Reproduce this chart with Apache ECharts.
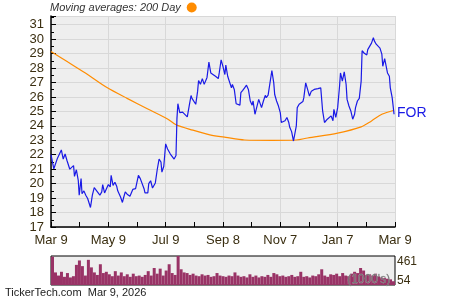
<!DOCTYPE html>
<html><head><meta charset="utf-8">
<script src="https://cdn.jsdelivr.net/npm/echarts@6/dist/echarts.min.js"></script>
<style>html,body{margin:0;padding:0;background:#fff}#c{width:450px;height:300px}</style>
</head><body><div id="c"></div>
<script>
// x tick labels (day offsets from Mar 9, every 61 days)
var xTickLabels = ['Mar 9','May 9','Jul 9','Sep 8','Nov 7','Jan 7','Mar 9'];
// price: day offsets and closing values
var priceDays = [0,3,5,7,9,11,13,15,17,18,20,22,24,25,27,29,30,32,33,35,37,39,41,42,44,46,48,50,52,54,55,57,59,61,63,64,66,68,70,71,74,76,77,79,81,84,85,87,88,90,92,93,95,97,99,100,103,104,106,108,110,111,113,115,117,118,120,122,124,127,129,131,133,134,135,137,139,140,142,145,147,149,150,152,154,156,157,159,161,163,164,166,168,170,172,175,178,179,181,183,185,186,188,190,192,193,195,197,199,201,202,204,206,208,210,212,214,215,217,219,221,222,224,226,228,229,231,233,235,237,238,240,242,244,245,247,249,251,253,254,256,258,261,262,264,266,268,269,271,273,275,277,278,280,282,284,285,287,289,291,293,294,296,298,300,301,303,305,307,308,310,312,314,315,317,319,321,323,324,326,328,330,331,333,335,336,337,339,341,343,344,346,348,350,352,353,355,356,358,360,361,363,365];
var priceVals = [22.0,21.03,20.96,21.78,21.78,22.33,21.7,22.05,21.6,21.7,21.0,21.1,21.25,20.5,20.96,20.23,19.2,20.35,19.3,19.5,19.2,18.97,18.85,18.35,19.2,19.72,19.55,19.43,19.2,19.43,19.93,19.36,19.47,19.94,19.77,20.57,19.88,20.1,19.8,19.5,19.08,18.7,18.97,19.43,19.27,19.13,19.02,19.6,19.47,19.65,19.55,20.57,20.35,20.23,19.65,19.36,19.36,20.0,20.2,19.7,19.8,20.05,20.96,21.7,21.5,20.8,21.2,22.75,22.4,22.05,21.95,21.7,21.95,24.5,25.53,24.91,25.0,24.95,24.97,24.62,25.37,26.1,25.9,26.0,25.49,26.4,27.14,26.87,27.27,26.87,26.95,27.35,28.41,27.66,27.55,27.43,27.27,27.66,28.57,28.1,27.55,28.2,27.43,27.3,26.63,26.86,26.52,25.53,25.6,25.43,26.29,26.45,26.63,26.81,26.52,25.72,25.43,25.72,24.8,24.9,25.83,25.72,25.26,25.72,26.11,25.95,26.13,26.07,27.82,26.97,26.17,25.72,25.37,24.9,24.23,24.12,24.35,24.58,24.23,23.9,23.6,22.95,24.0,25.26,25.49,25.37,25.68,25.95,26.97,26.52,26.06,26.4,26.45,26.52,26.4,26.58,26.68,26.63,25.03,24.23,24.35,24.46,24.58,24.69,24.35,25.14,24.58,25.26,26.74,27.66,27.09,27.73,26.86,25.83,25.37,25.03,24.46,24.8,25.26,25.72,25.9,27.09,29.2,29.04,28.96,28.9,29.27,29.38,29.72,30.1,29.88,29.65,29.72,29.38,28.96,28.12,28.65,28.58,27.66,27.43,26.63,25.95,24.8];
// 200-day moving average
var maDays = [0,18,39,60,81,103,124,133,151,169,186,206,235,261,273,305,330,341,352,365];
var maVals = [29.15,28.41,27.55,26.63,25.9,25.17,24.48,24.07,23.7,23.38,23.2,23.02,23.0,23.02,23.16,23.5,23.93,24.34,24.8,25.08];
// volume (1000's), one bar per ~3 days
var volVals = [450,200,150,210,130,190,120,140,320,390,300,150,400,280,200,160,330,190,210,170,140,220,150,200,140,170,130,180,140,150,130,160,220,150,270,180,260,150,230,330,190,160,461,250,200,190,160,180,150,140,170,150,160,130,140,190,150,140,130,150,140,200,150,130,140,120,170,130,150,120,140,130,160,130,190,170,140,150,130,140,160,130,140,210,130,140,120,150,140,170,250,150,130,170,160,180,140,190,150,140,180,210,190,270,230,160,170,150,180,140,120,110,100,90,60];
var volLabels = ['461','54'];

var chart = echarts.init(document.getElementById('c'), null, {renderer:'canvas'});
var priceData = priceDays.map(function(d,i){return [d, priceVals[i]];});
var maData = maDays.map(function(d,i){return [d, maVals[i]];});
var volCats = volVals.map(function(v,i){return i;});
var labelColor = '#3a2e10';
chart.setOption({
  animation:false,
  grid:[
    {left:51, top:16, width:344, height:211, show:true, backgroundColor:'#eeeeee', borderWidth:0},
    {left:51, top:256, width:344, height:29, show:true, backgroundColor:'#eeeeee', borderColor:'#000', borderWidth:1}
  ],
  xAxis:[
    {type:'value', gridIndex:0, min:0, max:366, interval:61,
     axisLine:{lineStyle:{color:'#000', width:1.5}},
     axisTick:{inside:true, length:5, lineStyle:{color:'#000'}},
     minorTick:{show:true, splitNumber:2, length:5, lineStyle:{color:'#000'}},
     splitLine:{show:true, lineStyle:{color:'#d8d8d8', width:1}},
     axisLabel:{color:labelColor, fontSize:13, fontFamily:'Liberation Sans', margin:7,
       formatter:function(v){var k=Math.round(v/61);return xTickLabels[k]||'';}}},
    {type:'category', gridIndex:1, data:volCats, show:false, boundaryGap:true}
  ],
  yAxis:[
    {type:'value', gridIndex:0, min:17, max:31.6, interval:1,
     axisLine:{show:true, lineStyle:{color:'#000', width:1.5}},
     axisTick:{inside:true, length:5, lineStyle:{color:'#000'}},
     minorTick:{show:true, splitNumber:2, length:3, lineStyle:{color:'#000'}},
     splitLine:{show:true, lineStyle:{color:'#d8d8d8', width:1}},
     axisLabel:{color:labelColor, fontSize:13, fontFamily:'Liberation Sans', margin:7,
       formatter:function(v){return Math.abs(v-Math.round(v))<1e-6 ? String(Math.round(v)) : '';}}},
    {type:'value', gridIndex:1, min:0, max:461, show:false, splitLine:{show:false}}
  ],
  series:[
    {type:'line', xAxisIndex:0, yAxisIndex:0, data:maData, showSymbol:false, smooth:0.3,
     lineStyle:{color:'#ff8c00', width:1.2}, z:2},
    {type:'line', xAxisIndex:0, yAxisIndex:0, data:priceData, showSymbol:false,
     lineStyle:{color:'#1a1ae6', width:1.2}, z:3},
    {type:'bar', xAxisIndex:1, yAxisIndex:1, data:volVals, barCategoryGap:'0%', barWidth:'100%',
     itemStyle:{color:'#993366'}}
  ],
  graphic:[
    {type:'text', left:50, top:2, style:{text:'Moving averages: 200 Day', fontStyle:'italic', fontSize:11, fontFamily:'Liberation Sans', fill:'#333'}},
    {type:'circle', shape:{cx:191.7, cy:7.5, r:5}, style:{fill:'#ff8c00'}},
    {type:'text', left:397, top:106, style:{text:'FOR', fontSize:14, fontFamily:'Liberation Sans', fill:'#1a1ae6'}},
    {type:'text', left:397, top:256, style:{text:volLabels[0], fontSize:12, fontFamily:'Liberation Sans', fill:labelColor}},
    {type:'text', left:397, top:275, style:{text:volLabels[1], fontSize:12, fontFamily:'Liberation Sans', fill:labelColor}},
    {type:'text', left:347, top:274, z:10, style:{text:"(1000's)", fontSize:12, fontFamily:'Liberation Sans', fill:'#777', stroke:'#bbb', lineWidth:0.3}},
    {type:'text', left:5, top:287, style:{text:'TickerTech.com  Mar 9, 2026', fontSize:11, fontFamily:'Liberation Sans', fill:'#222'}}
  ]
});
</script></body></html>
